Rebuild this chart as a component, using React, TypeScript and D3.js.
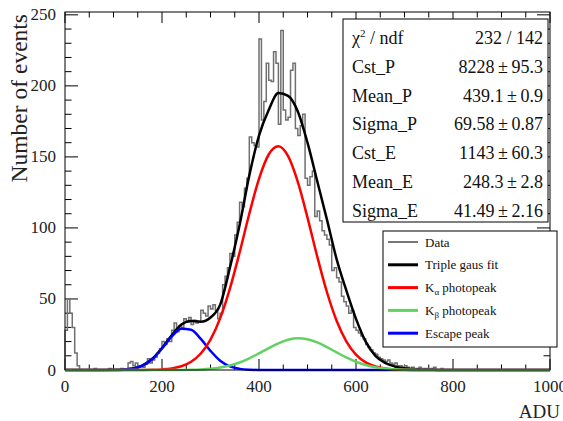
import React from "react";
import * as d3 from "d3";

// histogram: 5 ADU bins starting at 0
const binWidth = 5;
const counts = [
  28, 50, 40, 30, 12, 3, 0, 0, 0, 0, 0, 0, 1, 0, 0, 0, 0, 0, 1, 0,
  0, 0, 0, 1, 0, 0, 5, 6, 3, 5, 2, 3, 2, 4, 8, 5, 7, 9, 12, 15,
  20, 18, 22, 20, 28, 33, 27, 31, 30, 36, 34, 37, 32, 35, 33, 34, 42, 40, 38, 45,
  43, 46, 42, 36, 40, 60, 66, 72, 82, 80, 95, 104, 118, 115, 128, 135, 164, 160, 158, 157,
  233, 176, 189, 216, 204, 203, 224, 216, 173, 239, 183, 176, 178, 211, 216, 170, 165, 172, 180, 135,
  130, 136, 140, 108, 112, 105, 98, 95, 92, 88, 70, 72, 65, 62, 52, 48, 45, 40, 42, 30,
  28, 26, 24, 22, 18, 16, 14, 12, 11, 9, 8, 7, 6, 7, 5, 4, 5, 3, 3, 2,
  3, 2, 1, 2, 1, 1, 2, 0, 1, 1, 0, 1, 2, 0, 0, 1, 0, 0, 0, 0,
];

// fit curves sampled every 20 ADU from 0 to 1000
const fitAdu = d3.range(0, 1001, 20);
const tripleFit = [
  0, 0, 0, 0, 0, 0.1, 0.3, 1.0, 3.2, 7.9, 15.5, 24.5, 32, 34.5, 34, 37, 46, 72, 102, 137,
  165, 183, 195, 193, 182, 160, 133, 106, 78, 56, 36, 20, 10, 5, 2.5, 1.2, 0.5, 0.2, 0.1, 0,
  0, 0, 0, 0, 0, 0, 0, 0, 0, 0, 0,
];
const kAlpha = [
  0, 0, 0, 0, 0, 0, 0, 0.02, 0.05, 0.15, 0.43, 1.1, 2.6, 5.8, 11.6, 21.4, 36.5, 57.3, 82.7, 110,
  134.6, 151.7, 157.5, 150.5, 132.4, 107.3, 80, 54.9, 34.7, 20.2, 10.8, 5.35, 2.43, 1.0, 0.39, 0.14, 0.05, 0, 0, 0,
  0, 0, 0, 0, 0, 0, 0, 0, 0, 0, 0,
];
const kBeta = [
  0, 0, 0, 0, 0, 0, 0, 0, 0, 0, 0.01, 0.03, 0.08, 0.19, 0.43, 0.91, 1.78, 3.19, 5.3, 8.2,
  11.7, 15.4, 18.8, 21.3, 22.3, 21.6, 19.4, 16.1, 12.4, 8.8, 5.8, 3.55, 2.0, 1.05, 0.51, 0.23, 0.09, 0.04, 0, 0,
  0, 0, 0, 0, 0, 0, 0, 0, 0, 0, 0,
];
const escape = [
  0, 0, 0, 0, 0, 0.05, 0.25, 1.0, 3.1, 7.7, 15.1, 23.5, 29, 28.3, 21.9, 13.5, 6.5, 2.5, 0.8, 0.2,
  0.05, 0, 0, 0, 0, 0, 0, 0, 0, 0, 0, 0, 0, 0, 0, 0, 0, 0, 0, 0,
  0, 0, 0, 0, 0, 0, 0, 0, 0, 0, 0,
];

const statNames = ["χ2 / ndf", "Cst_P", "Mean_P", "Sigma_P", "Cst_E", "Mean_E", "Sigma_E"];
const statValues = [
  "232 / 142",
  "8228\u2009±\u200995.3",
  "439.1\u2009±\u20090.9",
  "69.58\u2009±\u20090.87",
  "1143\u2009±\u200960.3",
  "248.3\u2009±\u20092.8",
  "41.49\u2009±\u20092.16",
];

const legendItems = [
  { label: "Data", sub: "", color: "#777777", width: 1.5 },
  { label: "Triple gaus fit", sub: "", color: "#000000", width: 2.5 },
  { label: "K", sub: "α", rest: " photopeak", color: "#ff0000", width: 2.5 },
  { label: "K", sub: "β", rest: " photopeak", color: "#62d162", width: 2.5 },
  { label: "Escape peak", sub: "", color: "#0000ff", width: 2.5 },
];

const xTicks = [0, 200, 400, 600, 800, 1000];
const yTicks = [0, 50, 100, 150, 200, 250];

const W = 563;
const H = 421;
const font = "Liberation Serif, serif";

export default function App() {
  const x = d3.scaleLinear().domain([0, 1000]).range([65, 550]);
  const y = d3.scaleLinear().domain([0, 252]).range([370, 12]);
  const [x0, x1] = x.range();
  const [yb, yt] = y.range();

  // step outline of the histogram
  let histPath = `M${x(0)},${y(0)}`;
  counts.forEach((c, i) => {
    histPath += `V${y(c)}H${x((i + 1) * binWidth)}`;
  });
  histPath += `V${y(0)}`;

  const line = d3
    .line<number>()
    .x((_, i) => x(fitAdu[i]))
    .y((d) => y(d))
    .curve(d3.curveMonotoneX);

  const xMinor = d3.range(0, 1001, 50);
  const yMinor = d3.range(0, 251, 10);

  return (
    <svg width={W} height={H} style={{ position: "absolute", left: 0, top: 0, background: "#fff", fontFamily: font }}>
      <rect x={0} y={0} width={W} height={H} fill="#fff" />

      {/* ticks */}
      <g stroke="#000" strokeWidth={1}>
        {xMinor.map((t) => {
          const len = xTicks.includes(t) ? 11 : 5.5;
          return (
            <g key={"x" + t}>
              <line x1={x(t)} x2={x(t)} y1={yb} y2={yb - len} />
              <line x1={x(t)} x2={x(t)} y1={yt} y2={yt + len} />
            </g>
          );
        })}
        {yMinor.map((t) => {
          const len = yTicks.includes(t) ? 13 : 6.5;
          return (
            <g key={"y" + t}>
              <line x1={x0} x2={x0 + len} y1={y(t)} y2={y(t)} />
              <line x1={x1} x2={x1 - len} y1={y(t)} y2={y(t)} />
            </g>
          );
        })}
      </g>

      {/* data and fits */}
      <path d={histPath} fill="none" stroke="#707070" strokeWidth={1.5} />
      <path d={line(tripleFit) || ""} fill="none" stroke="#000" strokeWidth={2.5} />
      <path d={line(escape) || ""} fill="none" stroke="#0000ff" strokeWidth={2.5} />
      <path d={line(kAlpha) || ""} fill="none" stroke="#ff0000" strokeWidth={2.5} />
      <path d={line(kBeta) || ""} fill="none" stroke="#62d162" strokeWidth={2.5} />

      {/* frame */}
      <rect x={x0} y={yt} width={x1 - x0} height={yb - yt} fill="none" stroke="#000" strokeWidth={1} />

      {/* tick labels */}
      <g fontSize={17} fill="#222">
        {xTicks.map((t) => (
          <text key={t} x={x(t)} y={392} textAnchor="middle">
            {t}
          </text>
        ))}
        {yTicks.map((t) => (
          <text key={t} x={56} y={y(t) + 5.5} textAnchor="end">
            {t}
          </text>
        ))}
      </g>

      {/* axis titles */}
      <text x={560} y={418} textAnchor="end" fontSize={19} fill="#222">
        ADU
      </text>
      <text transform="translate(27,14) rotate(-90)" textAnchor="end" fontSize={23.5} fill="#222">
        Number of events
      </text>

      {/* stats box */}
      <rect x={343} y={19} width={205} height={203} fill="#fff" stroke="#000" strokeWidth={1} />
      <g fontSize={18} fill="#111">
        {statNames.map((n, i) => {
          const by = 44 + i * 28.8;
          return (
            <g key={n}>
              {i === 0 ? (
                <text x={352} y={by}>
                  χ
                  <tspan dy={-7} fontSize={11}>
                    2
                  </tspan>
                  <tspan dy={7}> / ndf</tspan>
                </text>
              ) : (
                <text x={352} y={by}>
                  {n}
                </text>
              )}
              <text x={543} y={by} textAnchor="end">
                {statValues[i]}
              </text>
            </g>
          );
        })}
      </g>

      {/* legend */}
      <rect x={383} y={231} width={174} height={116} fill="#fff" stroke="#000" strokeWidth={1} />
      <g fontSize={13} fill="#111">
        {legendItems.map((it, i) => {
          const cy = 242 + i * 22.8;
          return (
            <g key={i}>
              <line x1={388} x2={418} y1={cy} y2={cy} stroke={it.color} strokeWidth={it.width + 0.5} />
              <text x={425} y={cy + 4.5}>
                {it.label}
                {it.sub ? (
                  <>
                    <tspan dy={3} fontSize={9}>
                      {it.sub}
                    </tspan>
                    <tspan dy={-3}>{it.rest}</tspan>
                  </>
                ) : null}
              </text>
            </g>
          );
        })}
      </g>
    </svg>
  );
}
